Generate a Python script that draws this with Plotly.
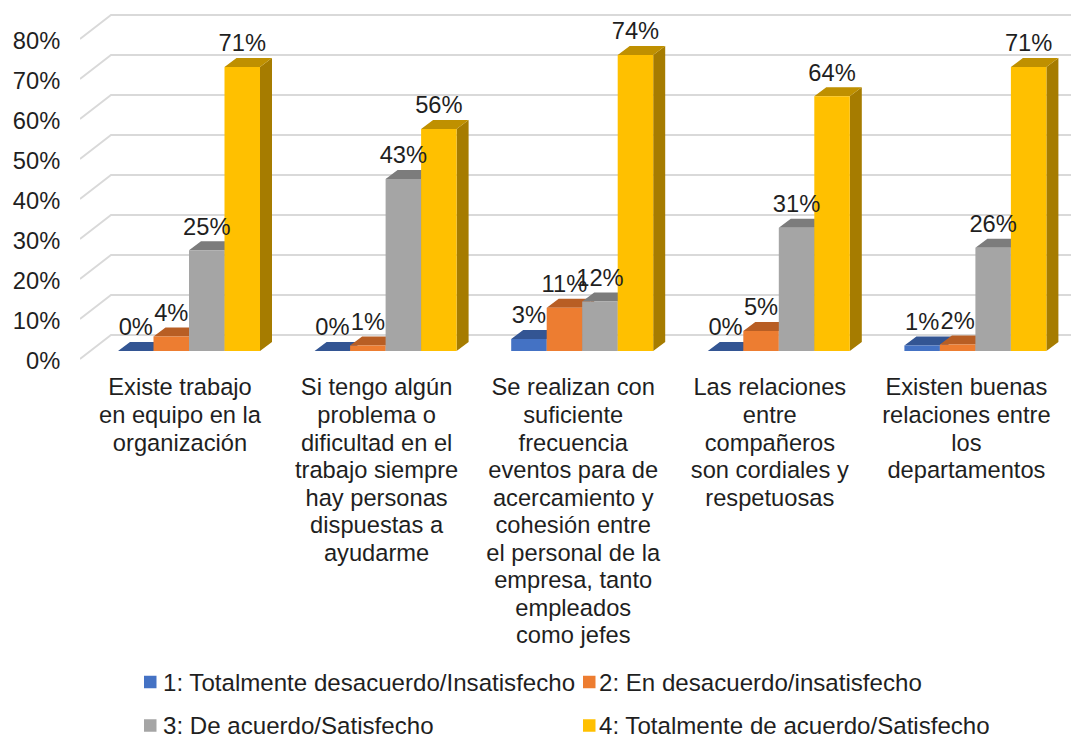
# Grouped bars with a drawn 3D look (depth faces, wall gridlines).

import plotly.graph_objects as go

categories = [
    "Existe trabajo<br>en equipo en la<br>organización",
    "Si tengo algún<br>problema o<br>dificultad en el<br>trabajo siempre<br>hay personas<br>dispuestas a<br>ayudarme",
    "Se realizan con<br>suficiente<br>frecuencia<br>eventos para de<br>acercamiento y<br>cohesión entre<br>el personal de la<br>empresa, tanto<br>empleados<br>como jefes",
    "Las relaciones<br>entre<br>compañeros<br>son cordiales y<br>respetuosas",
    "Existen buenas<br>relaciones entre<br>los<br>departamentos",
]

series_names = [
    "1: Totalmente desacuerdo/Insatisfecho",
    "2: En desacuerdo/insatisfecho",
    "3: De acuerdo/Satisfecho",
    "4: Totalmente de acuerdo/Satisfecho",
]

totalmente_desacuerdo = [0, 0, 3, 0, 1.4]
en_desacuerdo = [3.6, 1.4, 10.8, 5, 1.6]
de_acuerdo = [25.2, 43, 12.4, 30.8, 25.8]
totalmente_acuerdo = [71, 55.5, 74, 63.7, 71]

y_ticks = [0, 10, 20, 30, 40, 50, 60, 70, 80]

all_series = [totalmente_desacuerdo, en_desacuerdo, de_acuerdo, totalmente_acuerdo]

front_colors = ["#4472C4", "#ED7D31", "#A5A5A5", "#FFC000"]
top_colors = ["#335593", "#B85E24", "#7C7C7C", "#BF9000"]
side_colors = ["#2C4A80", "#A0501E", "#6B6B6B", "#A67C00"]

FONT = "Liberation Sans"
TEXT = "#1F1F1F"
FONT_SIZE = 23.7
LEGEND_FONT_SIZE = 24.1
LINE_FONT_SIZE = 21.2  # tick line spacing follows this one

# the page body adds 8px, so the figure is 8px smaller than the window
PAGE = 8
W, H = 1079 - PAGE, 735 - PAGE
PLOT_L, PLOT_B = 80 - PAGE, 360 - PAGE
CAT_STEP = 196.6
FIRST_CENTER = 189 - PAGE
PX_PER_UNIT = 4

bar_w = 35.5 / CAT_STEP
depth_x = 12 / CAT_STEP
depth_y = 9 / PX_PER_UNIT
wall_x = 31 / CAT_STEP
wall_y = 6
x_left = (PLOT_L - FIRST_CENTER) / CAT_STEP
x_right = (W - FIRST_CENTER) / CAT_STEP
label_shift = -9 / CAT_STEP

span = PLOT_B / PX_PER_UNIT
wall_range = [-1 / PX_PER_UNIT, span - 1 / PX_PER_UNIT]
bar_range = [-9 / PX_PER_UNIT, span - 9 / PX_PER_UNIT]


def tick_text(label):
    lines = label.split("<br>")
    return "<br>".join(f'<span style="font-size:{FONT_SIZE}px">{line}</span>' for line in lines)


def paper_x(px):
    return (px - PAGE - PLOT_L) / (W - PLOT_L)


def paper_y(py):
    return (PLOT_B - (py - PAGE)) / PLOT_B


fig = go.Figure()

# wall gridlines, on the axis that carries the tick labels
grid_x, grid_y = [], []
for t in y_ticks:
    grid_x += [x_left, x_left + wall_x, x_right, None]
    grid_y += [t, t + wall_y, t + wall_y, None]
fig.add_trace(go.Scatter(
    x=grid_x, y=grid_y, mode="lines", yaxis="y",
    line=dict(color="#D9D9D9", width=1.8),
    showlegend=False, hoverinfo="skip",
))

# side and top faces go under every front face
for s, values in enumerate(all_series):
    left = -2 * bar_w + s * bar_w
    side_x, side_y, top_x, top_y = [], [], [], []
    for i, v in enumerate(values):
        x0 = i + left
        x1 = x0 + bar_w
        side_x += [x1, x1 + depth_x, x1 + depth_x, x1, x1, None]
        side_y += [0, depth_y, v + depth_y, v, 0, None]
        top_x += [x0, x0 + depth_x, x1 + depth_x, x1, x0, None]
        top_y += [v, v + depth_y, v + depth_y, v, v, None]
    fig.add_trace(go.Scatter(
        x=side_x, y=side_y, mode="lines", yaxis="y2", fill="toself",
        fillcolor=side_colors[s], line=dict(width=0),
        showlegend=False, hoverinfo="skip",
    ))
    fig.add_trace(go.Scatter(
        x=top_x, y=top_y, mode="lines", yaxis="y2", fill="toself",
        fillcolor=top_colors[s], line=dict(width=0),
        showlegend=False, hoverinfo="skip",
    ))

# front faces
for s, values in enumerate(all_series):
    fig.add_trace(go.Bar(
        x=list(range(len(values))), y=values, yaxis="y3",
        name=series_names[s], width=bar_w, offset=-2 * bar_w + s * bar_w,
        marker=dict(color=front_colors[s], line=dict(width=0)),
        showlegend=False,
    ))

# data labels
for s, values in enumerate(all_series):
    fig.add_trace(go.Scatter(
        x=[i + (-1.5 + s) * bar_w for i in range(len(values))],
        y=[v + 5.4 for v in values],
        yaxis="y3", mode="text",
        text=[f"{round(v)}%" for v in values],
        textposition="middle center",
        textfont=dict(family=FONT, size=FONT_SIZE, color=TEXT),
        showlegend=False, hoverinfo="skip",
    ))

# the legend's swatch-to-text gap is fixed in plotly and too wide here, so it is laid out by hand
shapes, annotations = [], []
for s in range(len(series_names)):
    left = [144, 583][s % 2]
    text_left = [160.5, 597][s % 2]
    mid = [682, 725.5][s // 2]
    shapes.append(dict(
        type="rect", xref="paper", yref="paper", layer="above",
        x0=paper_x(left), x1=paper_x(left + 12.5),
        y0=paper_y(mid + 6.25), y1=paper_y(mid - 6.25),
        fillcolor=front_colors[s], line=dict(width=0),
    ))
    annotations.append(dict(
        xref="paper", yref="paper", x=paper_x(text_left), y=paper_y(mid),
        xanchor="left", yanchor="middle", showarrow=False,
        text=series_names[s],
        font=dict(family=FONT, size=LEGEND_FONT_SIZE, color=TEXT),
    ))

fig.update_layout(
    width=W, height=H,
    margin=dict(l=PLOT_L, r=0, t=0, b=H - PLOT_B, autoexpand=False),
    paper_bgcolor="white", plot_bgcolor="white",
    font=dict(family=FONT, size=FONT_SIZE, color=TEXT),
    barmode="overlay",
    showlegend=False,
    shapes=shapes,
    annotations=annotations,
    xaxis=dict(
        range=[x_left, x_right], showgrid=False, zeroline=False, showline=False,
        tickmode="array", tickvals=[i + label_shift for i in range(len(categories))],
        ticktext=[tick_text(c) for c in categories], tickangle=0, ticks="outside", ticklen=9,
        tickcolor="rgba(0,0,0,0)", tickfont=dict(family=FONT, size=LINE_FONT_SIZE, color=TEXT),
    ),
    yaxis=dict(
        range=wall_range, showgrid=False, zeroline=False, showline=False,
        tickmode="array", tickvals=y_ticks, ticktext=[f"{t}%" for t in y_ticks],
        ticks="outside", ticklen=14, tickcolor="rgba(0,0,0,0)", ticklabelshift=2,
        tickfont=dict(family=FONT, size=FONT_SIZE, color=TEXT),
    ),
    yaxis2=dict(range=bar_range, overlaying="y", visible=False),
    yaxis3=dict(range=bar_range, overlaying="y", visible=False),
)

fig.write_html("out.html")
